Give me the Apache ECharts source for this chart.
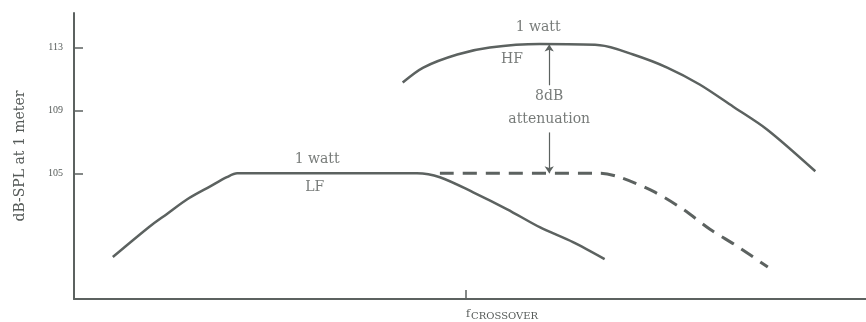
<!DOCTYPE html>
<html>
<head>
<meta charset="utf-8">
<script src="https://cdn.jsdelivr.net/npm/echarts@6/dist/echarts.min.js"></script>
<style>
  html, body { margin: 0; padding: 0; background: #fff; }
  #chart { width: 866px; height: 322px; }
</style>
</head>
<body>
<div id="chart"></div>
<script>
// relative frequency (0-100) vs dB-SPL
const lfX = [4.9, 9.6, 11.7, 14.3, 17.2, 19.3, 20.6, 43.3, 46.2, 50.4, 54.7, 58.8, 63.0, 67.0]
const lfY = [99.67, 101.63, 102.4, 103.35, 104.17, 104.75, 105, 105, 104.75, 103.79, 102.71, 101.57, 100.62, 99.54]

const hfX = [41.5, 44.1, 48.4, 52.5, 58.8, 66.4, 70.6, 74.9, 79.0, 83.2, 87.5, 93.6]
const hfY = [110.78, 111.73, 112.56, 113.0, 113.22, 113.15, 112.56, 111.73, 110.65, 109.25, 107.79, 105.13]

const attX = [46.2, 66.4, 68.9, 73.1, 76.9, 80.3, 83.7, 87.6]
const attY = [105, 105, 104.75, 103.86, 102.71, 101.44, 100.37, 99.03]

const yTicks = [105, 109, 113]
const crossover = 49.5

const noteText = ['1 watt', 'HF', '8dB', 'attenuation', '1 watt', 'LF']
const noteX = [58.6, 55.3, 60, 60, 30.7, 30.4]
const noteY = [114.3, 112.25, 109.9, 108.45, 105.9, 104.1]

const arrowX = 60
const arrowUp = [110.6, 113.2]
const arrowDown = [107.6, 105]

const ink = '#5c6260'
const textInk = '#555a58'
const serif = 'DejaVu Serif'

const zip = (xs, ys) => xs.map((x, i) => [x, ys[i]])

const curve = (xs, ys, dash) => ({
    type: 'line',
    data: zip(xs, ys),
    smooth: 0.3,
    symbol: 'none',
    lineStyle: dash ? { color: ink, width: 3, type: dash } : { color: ink, width: 2.5 }
})

const myChart = echarts.init(document.getElementById('chart'))
const hfSeries = curve(hfX, hfY)
hfSeries.markLine = {
    silent: true,
    symbol: ['none', 'arrow'],
    symbolSize: 7,
    label: { show: false },
    lineStyle: { color: ink, width: 1.2, type: 'solid' },
    data: [
        [{ coord: [arrowX, arrowUp[0]] }, { coord: [arrowX, arrowUp[1]] }],
        [{ coord: [arrowX, arrowDown[0]] }, { coord: [arrowX, arrowDown[1]] }]
    ]
}

const option = {
    animation: false,
    grid: { left: 74, right: 0, top: 13, bottom: 23 },
    xAxis: {
        type: 'value',
        min: 0,
        max: 100,
        splitLine: { show: false },
        axisLine: { lineStyle: { color: ink, width: 2 } },
        axisTick: {
            inside: true,
            length: 9,
            customValues: [crossover],
            lineStyle: { color: ink, width: 1.5 }
        },
        axisLabel: {
            customValues: [crossover],
            align: 'left',
            margin: 8,
            formatter: () => '{f|f}{s|CROSSOVER}',
            rich: {
                f: { fontFamily: serif, fontSize: 11, color: textInk },
                s: { fontFamily: serif, fontSize: 10, color: textInk, padding: [4, 0, 0, 1] }
            }
        }
    },
    yAxis: {
        type: 'value',
        min: 97,
        max: 115.2,
        name: 'dB-SPL at 1 meter',
        nameLocation: 'middle',
        nameGap: 47,
        nameTextStyle: { fontFamily: serif, fontSize: 14, color: textInk },
        splitLine: { show: false },
        axisLine: { show: true, lineStyle: { color: ink, width: 2 } },
        axisTick: {
            show: true,
            inside: true,
            length: 9,
            customValues: yTicks,
            lineStyle: { color: ink, width: 1.5 }
        },
        axisLabel: {
            customValues: yTicks,
            margin: 11,
            fontFamily: 'Liberation Serif',
            fontSize: 10,
            color: textInk
        }
    },
    series: [
        curve(lfX, lfY),
        hfSeries,
        curve(attX, attY, [14, 9]),
        {
            type: 'scatter',
            symbolSize: 0,
            silent: true,
            data: noteText.map((t, i) => ({ name: t, value: [noteX[i], noteY[i]] })),
            label: {
                show: true,
                position: 'inside',
                formatter: (p) => p.name,
                fontFamily: serif,
                fontSize: 14,
                color: textInk
            }
        }
    ]
}
myChart.setOption(option)
</script>
</body>
</html>
